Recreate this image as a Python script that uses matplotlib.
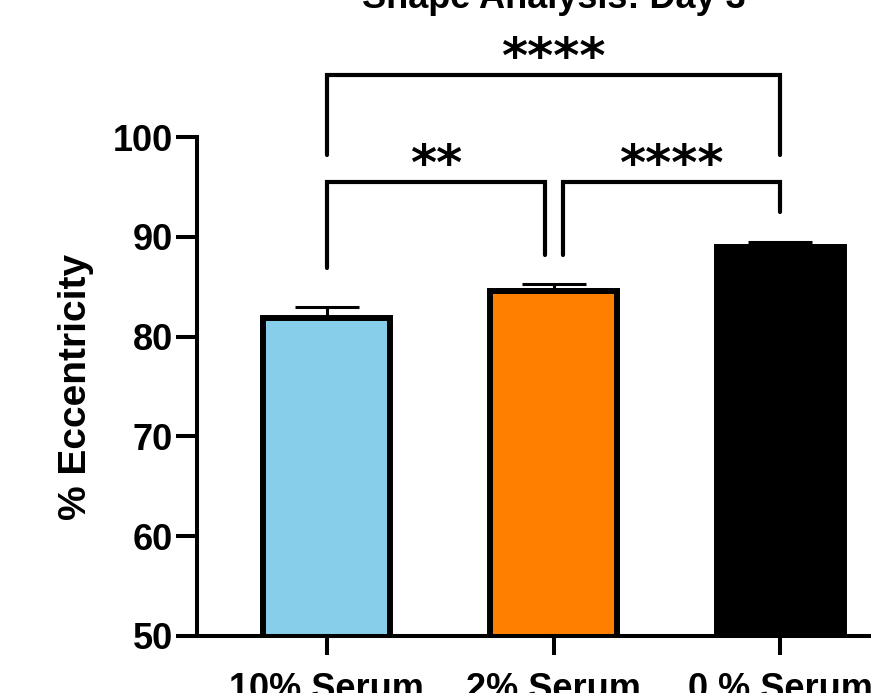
import numpy as np
import matplotlib.pyplot as plt

plt.rcParams['font.family'] = ['Liberation Sans', 'DejaVu Sans']
plt.rcParams['font.weight'] = 'bold'

# data
groups = ['10% Serum', '2% Serum', '0 % Serum']
means = [81.9, 84.6, 89.0]
sems = [1.1, 0.7, 0.5]
colors = ['#87CEEB', '#FF8000', '#000000']
yticks = [50, 60, 70, 80, 90, 100]

fig = plt.figure(figsize=(8.71, 6.93), dpi=100)
ax = fig.add_axes([0.226, 0.0823, 0.819, 0.72])

x = np.arange(len(groups))
ax.bar(x, means, width=0.56, color=colors, edgecolor='black', linewidth=4.3, zorder=2)
ax.errorbar(x, means, yerr=[[0] * len(sems), sems], fmt='none', ecolor='black',
            elinewidth=2.2, capsize=23, capthick=2.2, zorder=3)

ax.set_xlim(-0.574, 2.574)
ax.set_ylim(50, 100)
ax.set_yticks(yticks)
ax.set_xticks(x)
ax.set_xticklabels(groups, fontsize=26, fontweight='bold')
ax.tick_params(axis='y', labelsize=26, length=15, width=2.9, pad=2)
ax.tick_params(axis='x', length=14, width=2.9, pad=12)
for lab in ax.get_yticklabels():
    lab.set_fontweight('bold')
ax.set_ylabel('% Eccentricity', fontsize=28, fontweight='bold', labelpad=14)

for s in ['top', 'right']:
    ax.spines[s].set_visible(False)
for s in ['left', 'bottom']:
    ax.spines[s].set_linewidth(2.9)


def bracket(x1, x2, y, yl, yr, label, lx, ly):
    ax.plot([x1, x1, x2, x2], [yl, y, y, yr], color='black', lw=3.0,
            clip_on=False, solid_capstyle='round', solid_joinstyle='miter')
    ax.text(lx, ly, label, ha='center', va='center', fontsize=36,
            fontweight='bold', family='DejaVu Sans', clip_on=False)


bracket(0, 0.962, 95.5, 86.9, 88.2, '**', 0.48, 97.1)
bracket(1.04, 2, 95.5, 88.2, 92.5, '****', 1.52, 97.1)
bracket(0, 2, 106.2, 98.2, 98.2, '****', 1.0, 107.8)

ax.text(1.0, 112.9, 'Shape Analysis: Day 3', ha='center', va='baseline',
        fontsize=26, fontweight='bold', clip_on=False)

fig.savefig('out.png', dpi=100)
